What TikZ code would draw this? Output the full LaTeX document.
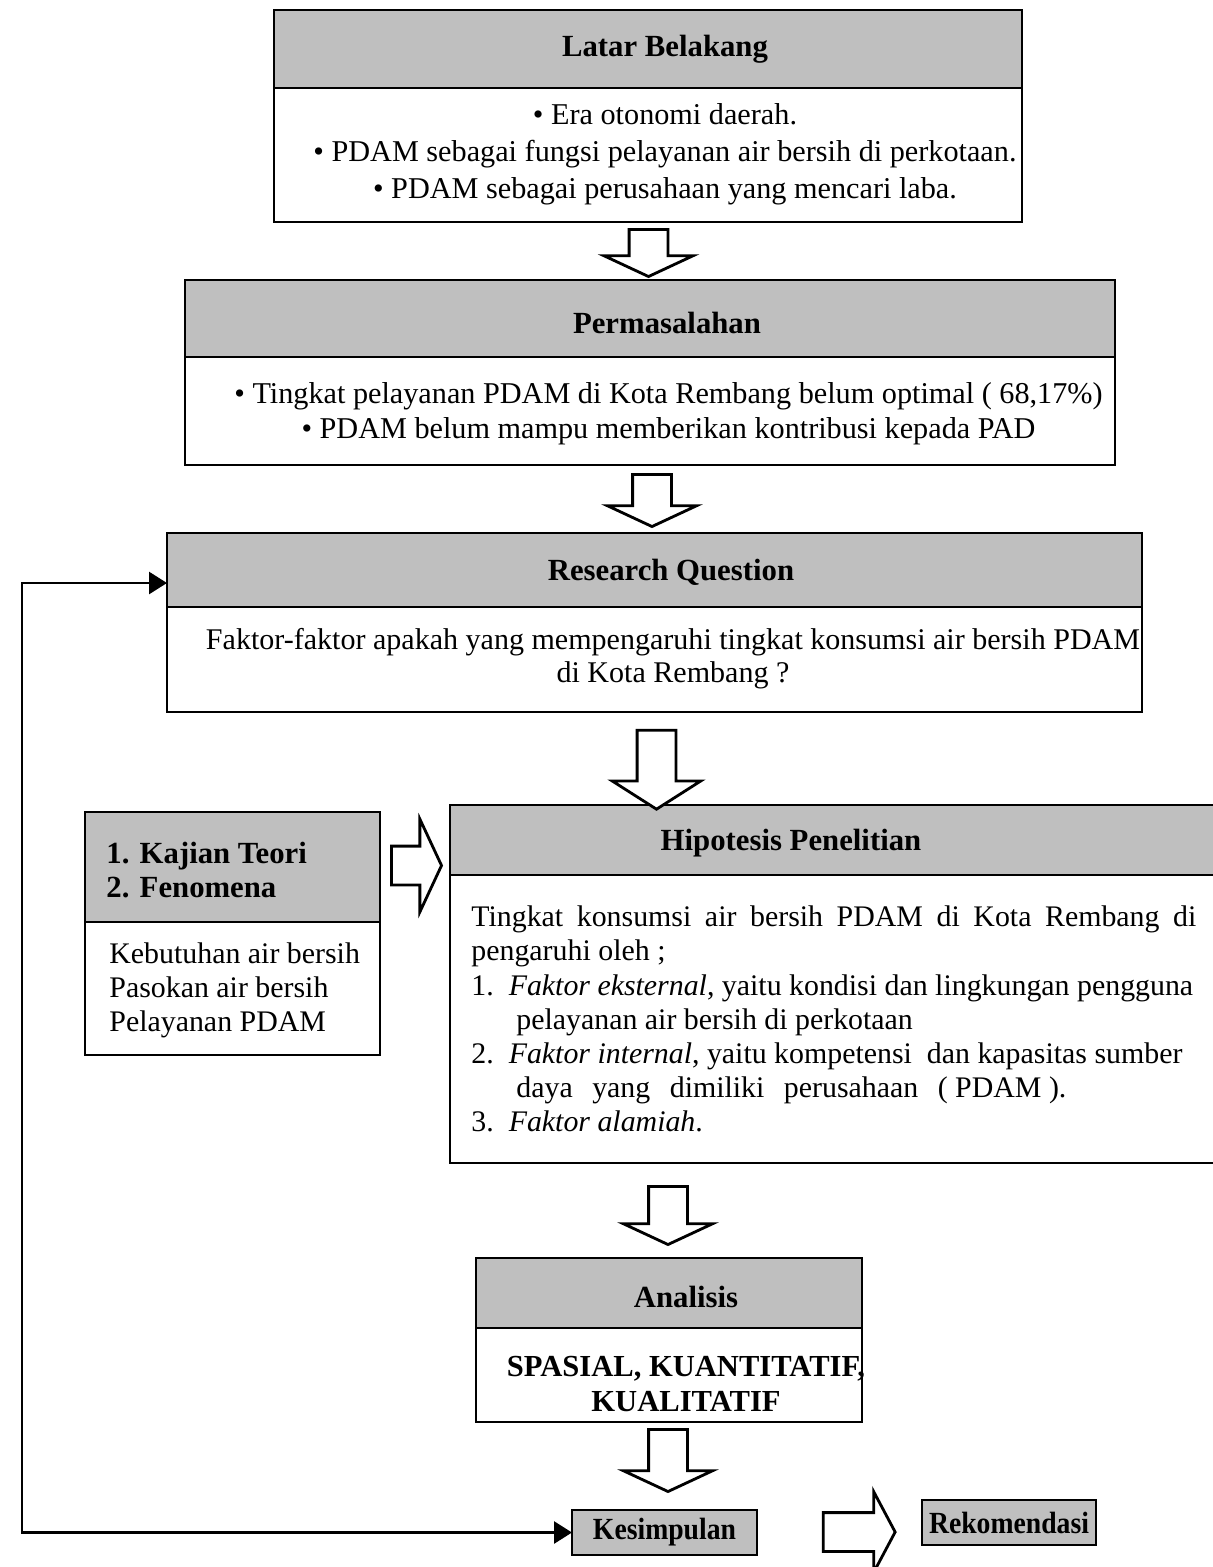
\documentclass[tikz,border=0pt]{standalone}
\usepackage{fontspec}
\setmainfont{Liberation Serif}
\usetikzlibrary{positioning,shapes.arrows,arrows.meta}

\begin{document}
\begin{tikzpicture}[line width=1.6pt,>={Triangle[length=3.6mm,width=4.4mm]},
  hdr/.style={draw,fill=gray!50,inner sep=0pt,outer sep=0pt},
  bdy/.style={draw,fill=white,inner sep=0pt,outer sep=0pt},
  hdrtxt/.style={inner sep=0pt,font=\fontsize{17.5}{21}\selectfont\bfseries},
  bdytxt/.style={inner sep=0pt,align=center},
  smallbox/.style={hdr,minimum height=0.9cm,
    font=\fontsize{17.5}{21}\selectfont\bfseries\addfontfeature{FakeStretch=0.9}},
  blk/.style={draw,fill=white,single arrow,inner xsep=0pt,inner ysep=0.36cm,
    single arrow head extend=0.5cm,single arrow tip angle=130},
  fbline/.style={<->}]
  \useasboundingbox (0,0) rectangle (24.24,-31.34);

  % latar belakang
  \node[hdr,minimum width=14.96cm,minimum height=1.56cm] (lbh) at (12.96,-0.98) {};
  \node[bdy,minimum width=14.96cm,minimum height=2.68cm,below=0pt of lbh] (lbb) {};
  \node[hdrtxt] at ([xshift=0.34cm]lbh.center) {Latar Belakang};
  \node[bdytxt,font=\fontsize{17.2}{21}\selectfont] at ([xshift=0.34cm,yshift=0.02cm]lbb.center)
    {\textbullet\ Era otonomi daerah.\\
     \textbullet\ PDAM sebagai fungsi pelayanan air bersih di perkotaan.\\
     \textbullet\ PDAM sebagai perusahaan yang mencari laba.};

  % permasalahan
  \node[hdr,minimum width=18.6cm,minimum height=1.54cm] (pmh) at (13.0,-6.37) {};
  \node[bdy,minimum width=18.6cm,minimum height=2.16cm,below=0pt of pmh] (pmb) {};
  \node[hdrtxt] at ([xshift=0.34cm,yshift=-0.09cm]pmh.center) {Permasalahan};
  \node[bdytxt,font=\fontsize{17.2}{19.9}\selectfont] at ([xshift=0.37cm,yshift=-0.06cm]pmb.center)
    {\textbullet\ Tingkat pelayanan PDAM di Kota Rembang belum optimal ( 68,17\%)\\
     \textbullet\ PDAM belum mampu memberikan kontribusi kepada PAD};

  % research question
  \node[hdr,minimum width=19.5cm,minimum height=1.48cm] (rqh) at (13.09,-11.40) {};
  \node[bdy,minimum width=19.5cm,minimum height=2.10cm,below=0pt of rqh] (rqb) {};
  \node[hdrtxt] at ([xshift=0.33cm,yshift=-0.04cm]rqh.center) {Research Question};
  \node[bdytxt,font=\fontsize{17.1}{18.8}\selectfont] at ([xshift=0.37cm,yshift=0.01cm]rqb.center)
    {Faktor-faktor apakah yang mempengaruhi tingkat konsumsi air bersih PDAM\\
     di Kota Rembang ?};

  % kajian teori / fenomena
  \node[hdr,minimum width=5.9cm,minimum height=2.2cm] (kth) at (4.65,-17.34) {};
  \node[bdy,minimum width=5.9cm,minimum height=2.66cm,below=0pt of kth] (ktb) {};
  \node[hdrtxt,anchor=west,align=left,font=\fontsize{17.5}{19.4}\selectfont\bfseries]
    at ([xshift=0.4cm,yshift=-0.06cm]kth.west) {1. Kajian Teori\\2. Fenomena};
  \node[bdytxt,anchor=west,align=left,font=\fontsize{17}{19.4}\selectfont]
    at ([xshift=0.46cm,yshift=-0.03cm]ktb.west)
    {Kebutuhan air bersih\\Pasokan air bersih\\Pelayanan PDAM};

  % hipotesis
  \node[hdr,minimum width=15.6cm,minimum height=1.4cm] (hph) at (16.8,-16.80) {};
  \node[bdy,minimum width=15.6cm,minimum height=5.76cm,below=0pt of hph] (hpb) {};
  \node[hdrtxt] at ([xshift=-0.98cm,yshift=-0.06cm]hph.center) {Hipotesis Penelitian};
  \node[bdytxt,anchor=west,align=left,font=\fontsize{17}{19.4}\selectfont]
    at ([xshift=0.4cm]hpb.west)
    {\hbox to 14.5cm{Tingkat konsumsi air bersih PDAM di Kota Rembang di}\\
     pengaruhi oleh ;\\
     1.\enspace\textit{Faktor eksternal}, yaitu kondisi dan lingkungan pengguna\\
     \hspace*{0.9cm}pelayanan air bersih di perkotaan\\
     2.\enspace\textit{Faktor internal}, yaitu kompetensi\enspace dan kapasitas sumber\\
     \hspace*{0.9cm}\hbox to 11cm{daya yang dimiliki perusahaan (\kern.25em PDAM\kern.25em).}\\
     3.\enspace\textit{Faktor alamiah}.};

  % analisis
  \node[hdr,minimum width=7.72cm,minimum height=1.4cm] (anh) at (13.38,-25.86) {};
  \node[bdy,minimum width=7.72cm,minimum height=1.88cm,below=0pt of anh] (anb) {};
  \node[hdrtxt] at ([xshift=0.34cm,yshift=-0.08cm]anh.center) {Analisis};
  \node[bdytxt,font=\fontsize{17.4}{19.4}\selectfont\bfseries] at ([xshift=0.34cm,yshift=-0.18cm]anb.center)
    {SPASIAL, KUANTITATIF,\\KUALITATIF};

  % kesimpulan, rekomendasi
  \node[smallbox,minimum width=3.7cm] (kes) at (13.29,-30.65) {Kesimpulan};
  \node[smallbox,minimum width=3.48cm] (rek) at (20.18,-30.45) {Rekomendasi};

  % panah blok
  \node[blk,minimum height=0.94cm,rotate=-90] (a1) at (12.97,-4.97) {};
  \node[blk,minimum height=1.04cm,rotate=-90] (a2) at (13.04,-9.92) {};
  \node[blk,minimum height=1.58cm,rotate=-90,single arrow tip angle=115] (a3) at (13.13,-15.27) {};
  \node[blk,minimum height=1.16cm,rotate=-90] (a4) at (13.36,-24.22) {};
  \node[blk,minimum height=1.24cm,rotate=-90] (a5) at (13.36,-29.12) {};
  \node[blk,minimum height=1.0cm,single arrow head extend=0.54cm] (ar) at (8.24,-17.31) {};
  \node[blk,minimum height=1.44cm,single arrow head extend=0.42cm,single arrow tip angle=124] (ab) at (17.08,-30.64) {};

  % umpan balik
  \coordinate (fbt) at (0.44,-11.66);
  \draw[fbline] (kes.west) -| (fbt) -- (fbt -| rqh.west);
\end{tikzpicture}
\end{document}
